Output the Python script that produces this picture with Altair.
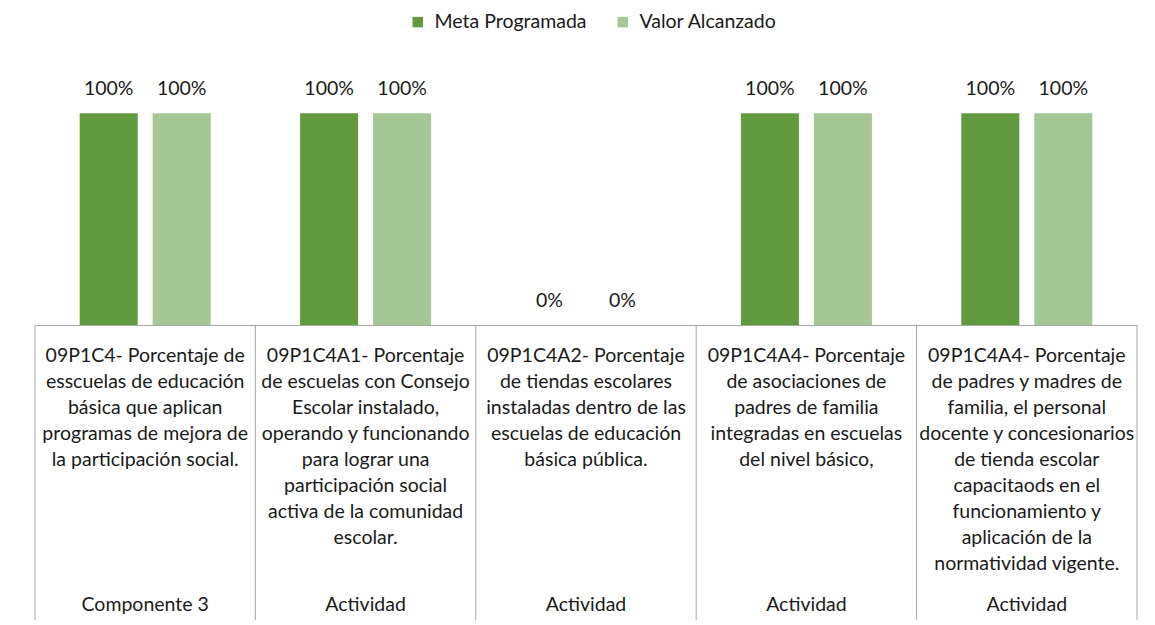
import altair as alt
import pandas as pd

# ---- data ----
categories = [
    "09P1C4- Porcentaje de\nesscuelas de educación\nbásica que aplican\nprogramas de mejora de\nla participación social.",
    "09P1C4A1- Porcentaje\nde escuelas con Consejo\nEscolar instalado,\noperando y funcionando\npara lograr una\nparticipación social\nactiva de la comunidad\nescolar.",
    "09P1C4A2- Porcentaje\nde tiendas escolares\ninstaladas dentro de las\nescuelas de educación\nbásica pública.",
    "09P1C4A4- Porcentaje\nde  asociaciones de\npadres de familia\nintegradas en escuelas\ndel nivel básico,",
    "09P1C4A4- Porcentaje\nde padres y madres de\nfamilia, el personal\ndocente y concesionarios\nde tienda escolar\ncapacitaods en el\nfuncionamiento y\naplicación de la\nnormatividad vigente.",
]
levels = ["Componente 3", "Actividad", "Actividad", "Actividad", "Actividad"]
series = ["Meta Programada", "Valor Alcanzado"]
meta_programada = [1.0, 1.0, 0.0, 1.0, 1.0]
valor_alcanzado = [1.0, 1.0, 0.0, 1.0, 1.0]
colors = ["#629B3F", "#A4C795"]

rows = []
for c, m, v in zip(categories, meta_programada, valor_alcanzado):
    rows.append({"cat": c, "series": series[0], "value": m})
    rows.append({"cat": c, "series": series[1], "value": v})
df = pd.DataFrame(rows)
cats_df = pd.DataFrame({"cat": categories, "level": levels})

FONT = "Lato"
FS = 19.5
TXT = "#1A1A1A"
W, H = 1102, 254

x_enc = alt.X(
    "cat:N",
    sort=categories,
    scale=alt.Scale(paddingInner=0, paddingOuter=0),
    axis=alt.Axis(labels=False, ticks=False, title=None, domainColor="#A6A6A6",
                  domainWidth=1, grid=False),
)
y_enc = alt.Y("value:Q", scale=alt.Scale(domain=[0, 1.2]), axis=None)
xoff = alt.XOffset("series:N", sort=series,
                   scale=alt.Scale(paddingInner=0.205, paddingOuter=0.612))

bars = alt.Chart(df).mark_bar().encode(
    x=x_enc,
    y=y_enc,
    xOffset=xoff,
    color=alt.Color(
        "series:N",
        sort=series,
        scale=alt.Scale(domain=series, range=colors),
        legend=alt.Legend(
            orient="none", legendX=373, legendY=-59, direction="horizontal",
            title=None, symbolType="square", symbolSize=110, symbolStrokeWidth=0,
            labelFontSize=FS, labelFont=FONT, labelColor=TXT,
            columnPadding=26, labelOffset=7,
        ),
    ),
)

labels = alt.Chart(df).mark_text(
    baseline="middle", dy=-24, fontSize=FS, font=FONT, color=TXT
).encode(
    x=alt.X("cat:N", sort=categories),
    y=y_enc,
    xOffset=xoff,
    text=alt.Text("value:Q", format=".0%"),
)

rules = alt.Chart(cats_df).mark_rule(color="#A6A6A6", strokeWidth=1).encode(
    x=alt.X("cat:N", sort=categories, bandPosition=0),
    y=alt.value(H),
    y2=alt.value(H + 300),
)
end_rule = alt.Chart(cats_df.head(1)).mark_rule(color="#A6A6A6", strokeWidth=1).encode(
    x=alt.value(W),
    y=alt.value(H),
    y2=alt.value(H + 300),
)

desc = alt.Chart(cats_df).mark_text(
    baseline="alphabetic", align="center", lineBreak="\n", lineHeight=26,
    fontSize=FS, font=FONT, color=TXT
).encode(
    x=alt.X("cat:N", sort=categories),
    y=alt.value(H + 37),
    text="cat:N",
)

lev = alt.Chart(cats_df).mark_text(
    baseline="alphabetic", align="center", fontSize=FS, font=FONT, color=TXT
).encode(
    x=alt.X("cat:N", sort=categories),
    y=alt.value(H + 286),
    text="level:N",
)

chart = alt.layer(bars, labels, rules, end_rule, desc, lev).properties(
    width=W, height=H,
    padding={"left": 27, "top": 63, "right": 10, "bottom": 295},
    autosize="none",
    background="white",
).configure_view(stroke=None)

chart.save("out.html", embed_options={"renderer": "svg", "actions": False})
